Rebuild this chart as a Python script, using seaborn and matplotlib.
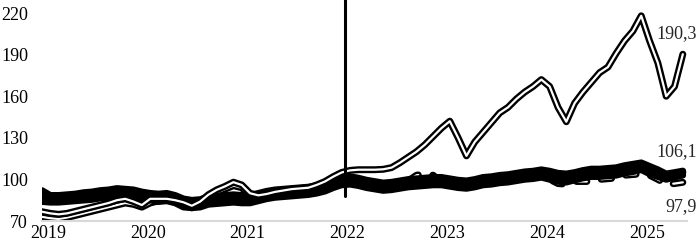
import matplotlib
matplotlib.use("Agg")
import matplotlib.pyplot as plt
import numpy as np
import seaborn as sns

# monthly index, Jan 2019 .. Jun 2025
months = np.arange(78)
years = [2019, 2020, 2021, 2022, 2023, 2024, 2025]
yticks = [70, 100, 130, 160, 190, 220]

# double line (black/white/black) that breaks away upward
series_a = [76.7, 75.5, 74.8, 75.5, 77, 78.5, 80, 81.5, 83, 85,
            86, 84, 81.5, 86, 86, 86, 85, 83.5, 81, 84,
            89, 92.5, 95, 98, 96, 90, 88.5, 89.5, 91, 92,
            93, 93.5, 94, 96, 98.5, 102, 105, 106.5, 107, 107,
            107, 107.3, 108.5, 112, 116, 120, 125, 131, 137, 142,
            130, 117, 127, 134, 141, 148, 152, 158, 163, 167,
            172, 167, 152, 141.6, 155, 163, 170, 177, 181, 191,
            200, 207, 218, 200, 184, 160, 167, 190.3]
# second double line, low in 2019, later hidden inside the bundle
series_b = [73, 72, 71.5, 72.5, 74, 75.5, 77, 78.5, 80, 81.5,
            83, 82, 80, 83, 84.5, 85, 84, 82, 79.5, 82,
            87, 90.5, 93, 95.5, 94, 88, 87, 88, 89.5, 90.5,
            91.5, 92, 92.5, 94, 96, 98.5, 100, 99, 98, 96.5,
            95.5, 94.5, 95, 96, 97, 97.5, 98, 98.5, 98.5, 97.5,
            96.5, 96, 97, 98.5, 99, 100, 100.5, 101.5, 102.5, 103,
            104, 103, 101.5, 101, 102, 103.5, 104.5, 104.5, 105, 105.5,
            107, 108, 109.5, 106.5, 104.5, 102, 103.5, 105]
# dashed double line ending at 97.9
series_d = [85.5, 84.5, 84.5, 85, 85.5, 86.5, 87, 88, 88.5, 89.5,
            89, 88.5, 87.5, 86.5, 85.5, 86, 84.5, 81.5, 80.5, 81.5,
            83.5, 84, 84.5, 85, 84.5, 84.5, 86, 87.5, 88.5, 89,
            89.5, 90, 90.5, 91.5, 93, 95.5, 97.5, 98, 97, 95.5,
            94.5, 93.5, 94, 96, 99, 103, 104, 103, 98, 96.5,
            95.5, 95, 96, 97.5, 98, 99, 99.5, 100.5, 101.5, 102,
            103, 100, 97, 96.5, 98.5, 98.5, 98.5, 100, 100.5, 101,
            103, 103.5, 104, 103, 100, 96.5, 97, 97.9]
# thick black bundle: top (ends 106.1), middle, bottom
series_c = [92, 88.5, 88.5, 89, 89.5, 90.5, 91, 92, 92.5, 93.5,
            93, 92.5, 91, 90, 89.5, 90, 88.5, 86, 85, 85.5,
            87.5, 88, 88.5, 89, 88.5, 88.5, 90, 91.5, 92.5, 93,
            93.5, 94, 94.5, 95.5, 97, 99.5, 101.5, 102, 101, 99.5,
            98.5, 97.5, 98, 99, 100, 100.5, 101, 101.5, 101.5, 100.5,
            99.5, 99, 100, 101.5, 102, 103, 103.5, 104.5, 105.5, 106,
            107, 106, 104.5, 104, 105, 106.5, 107.5, 107.5, 108, 108.5,
            110, 111, 112, 109.5, 107, 104, 105, 106.1]
series_e = [87, 86, 86, 86.5, 87, 88, 88.5, 89.5, 90, 91,
            90.5, 90, 89, 88, 87, 87.5, 86, 83, 82, 83,
            85, 85.5, 86, 86.5, 86, 86, 87.5, 89, 90, 90.5,
            91, 91.5, 92, 93, 94.5, 97, 99, 99.5, 98.5, 97,
            96, 95, 95.5, 96.5, 97.5, 98, 98.5, 99, 99, 98,
            97, 96.5, 97.5, 99, 99.5, 100.5, 101, 102, 103, 103.5,
            104.5, 103.5, 102, 101.5, 102.5, 104, 105, 105, 105.5, 106,
            107.5, 108.5, 110, 107, 105, 102.5, 104, 105.5]
series_f = [84, 83.5, 83.5, 84, 84.5, 85, 85.5, 86.5, 87, 88,
            87.5, 87, 86, 85, 84, 84.5, 83, 80, 79.5, 80,
            82, 82.5, 83, 83.5, 83, 83, 84.5, 86, 87, 87.5,
            88, 88.5, 89, 90, 91.5, 94, 96, 96.5, 95.5, 94,
            93, 92, 92.5, 93.5, 94.5, 95, 95.5, 96, 96, 95,
            94, 93.5, 94.5, 96, 96.5, 97.5, 98, 99, 100, 100.5,
            101.5, 100, 98.5, 98, 99.5, 101, 102, 102, 102.5, 103,
            104.5, 105.5, 107, 104, 102, 100, 101.5, 103]

marker_month = 36.4          # vertical marker, start of 2022
marker_span = (88, 232)

ROUND = dict(solid_capstyle="round", solid_joinstyle="round",
             dash_capstyle="round", dash_joinstyle="round")


def double_line(ax, y, dashes=None, z=2):
    """Excel-style compound line: thick black stroke with a thin white core."""
    ls = "-" if dashes is None else (0, dashes)
    sns.lineplot(x=months, y=y, ax=ax, color="black", lw=5.0, linestyle=ls, zorder=z, **ROUND)
    sns.lineplot(x=months, y=y, ax=ax, color="white", lw=1.6, linestyle=ls, zorder=z + 0.1, **ROUND)


def label(val):
    return f"{val:.1f}".replace(".", ",")


sns.set_theme(style="white")
plt.rcParams["font.family"] = ["Liberation Serif", "DejaVu Serif"]
plt.rcParams["lines.scale_dashes"] = False

fig = plt.figure(figsize=(6.98, 2.5), dpi=100)
ax = fig.add_axes([42 / 698, 29 / 250, 645 / 698, 221 / 250])

double_line(ax, series_d, dashes=(7.5, 10.5), z=1)
double_line(ax, series_b, z=1.5)
for s in (series_f, series_e, series_c):
    sns.lineplot(x=months, y=s, ax=ax, color="black", lw=4.8, zorder=3, **ROUND)
double_line(ax, series_a, z=4)

ax.plot([marker_month, marker_month], marker_span, color="black", lw=2.2,
        zorder=6, clip_on=False)

ax.annotate(label(series_a[-1]), xy=(months[-1], series_a[-1]), xytext=(10, 15),
            textcoords="offset points", ha="right", va="center", fontsize=13)
ax.annotate(label(series_c[-1]), xy=(months[-1], series_c[-1]), xytext=(10, 13.7),
            textcoords="offset points", ha="right", va="center", fontsize=13)
ax.annotate(label(series_d[-1]), xy=(months[-1], series_d[-1]), xytext=(10, -17.8),
            textcoords="offset points", ha="right", va="center", fontsize=13)

ax.set_xlim(0, 77.5)
ax.set_ylim(70, 229.4)
ax.set_xticks([(y - years[0]) * 12 + 0.7 for y in years])
ax.set_xticklabels([str(y) for y in years])
ax.set_yticks(yticks)
ax.set_yticklabels([str(v) for v in yticks])
ax.tick_params(axis="both", length=0, labelsize=13, colors="black")
ax.tick_params(axis="y", pad=10)
ax.tick_params(axis="x", pad=3)
ax.set_xlabel("")
ax.set_ylabel("")
for side in ("top", "right", "left"):
    ax.spines[side].set_visible(False)
ax.spines["bottom"].set_color("#d9d9d9")
ax.spines["bottom"].set_linewidth(1.5)
ax.grid(False)
ax.set_facecolor("white")

fig.savefig("out.png", dpi=100, facecolor="white")
